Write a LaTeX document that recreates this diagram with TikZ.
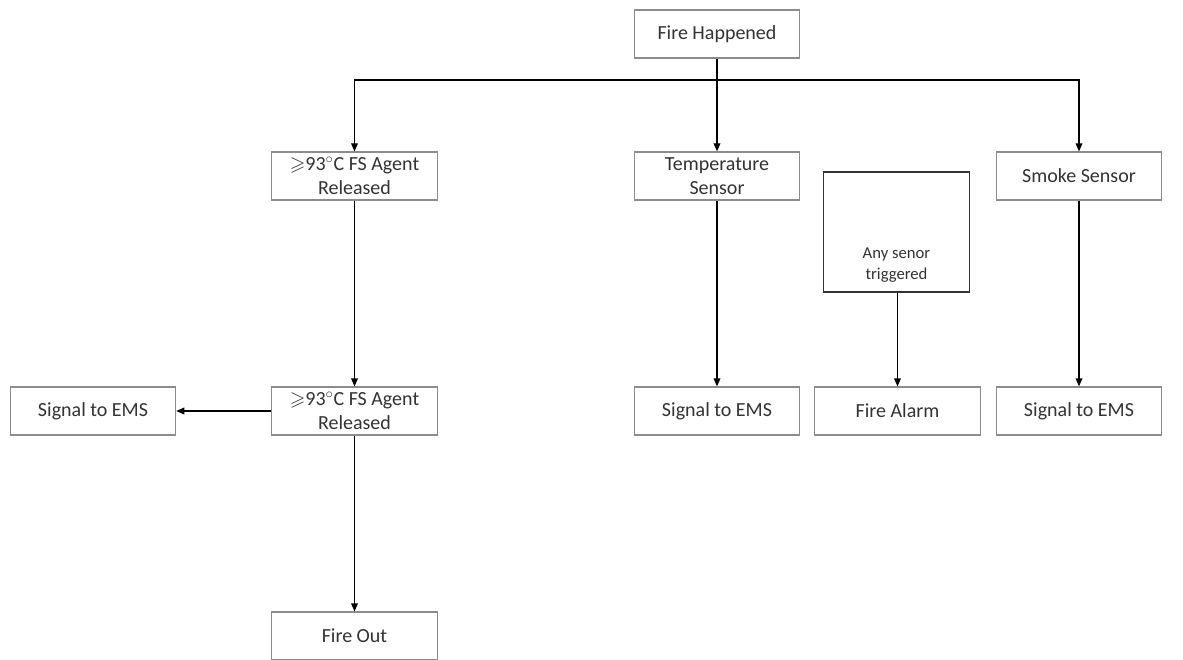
\documentclass[tikz,border=0pt]{standalone}
\usepackage{fontspec}
\setmainfont{Carlito}
\usepackage{amssymb}
\usetikzlibrary{arrows.meta}

\tikzset{
    stage/.style={draw=black!45, line width=0.9pt, fill=white, minimum width=124pt, minimum height=36pt, align=center, font=\fontsize{15}{18}\selectfont, text=black!80},
    flow/.style={line width=0.9pt, -{Triangle[length=6pt, width=5pt]}}
}

\begin{document}
\begin{tikzpicture}[x=0.75pt, y=-0.75pt]
    \useasboundingbox (0,0) rectangle (1183,660);

    % Top of the chart
    \node[stage] (Fire) at (717,34) {Fire Happened};

    % Second row
    \node[stage] (Agent) at (354.5,176) {$\geqslant$93$^{\circ}$C FS Agent\\Released};
    \node[stage] (Temp) at (717,176) {Temperature\\Sensor};
    \node[stage] (Smoke) at (1079,176) {Smoke Sensor};

    % Box for the sensors
    \node[draw=black!80, line width=0.9pt, minimum width=110pt, minimum height=90pt] (AnyBox) at (896.5,232) {};
    \node[font=\fontsize{12.5}{16}\selectfont, text=black!80, align=center, anchor=south] (Any) at ([yshift=4pt]AnyBox.south) {Any senor\\triggered};

    % Third row
    \node[stage] (EMS1) at (93,411) {Signal to EMS};
    \node[stage] (Agent2) at (354.5,411) {$\geqslant$93$^{\circ}$C FS Agent\\Released};
    \node[stage] (EMS2) at (717,411) {Signal to EMS};
    \node[stage] (Alarm) at (897.5,411) {Fire Alarm};
    \node[stage] (EMS3) at (1079,411) {Signal to EMS};

    % Bottom
    \node[stage] (Out) at (354.5,636) {Fire Out};

    % Split below the first box
    \coordinate (Split) at (717,80);
    \draw[line width=0.9pt] (Fire.south) -- (Split);
    \foreach \t in {Agent, Temp, Smoke}
        \draw[flow] (Split) -| (\t.north);

    % Straight links
    \draw[flow] (Agent) -- (Agent2);
    \draw[flow] (Temp) -- (EMS2);
    \draw[flow] (Smoke) -- (EMS3);
    \draw[flow] (AnyBox.south -| Alarm.north) -- (Alarm);
    \draw[flow] (Agent2) -- (EMS1);
    \draw[flow] (Agent2) -- (Out);
\end{tikzpicture}
\end{document}
